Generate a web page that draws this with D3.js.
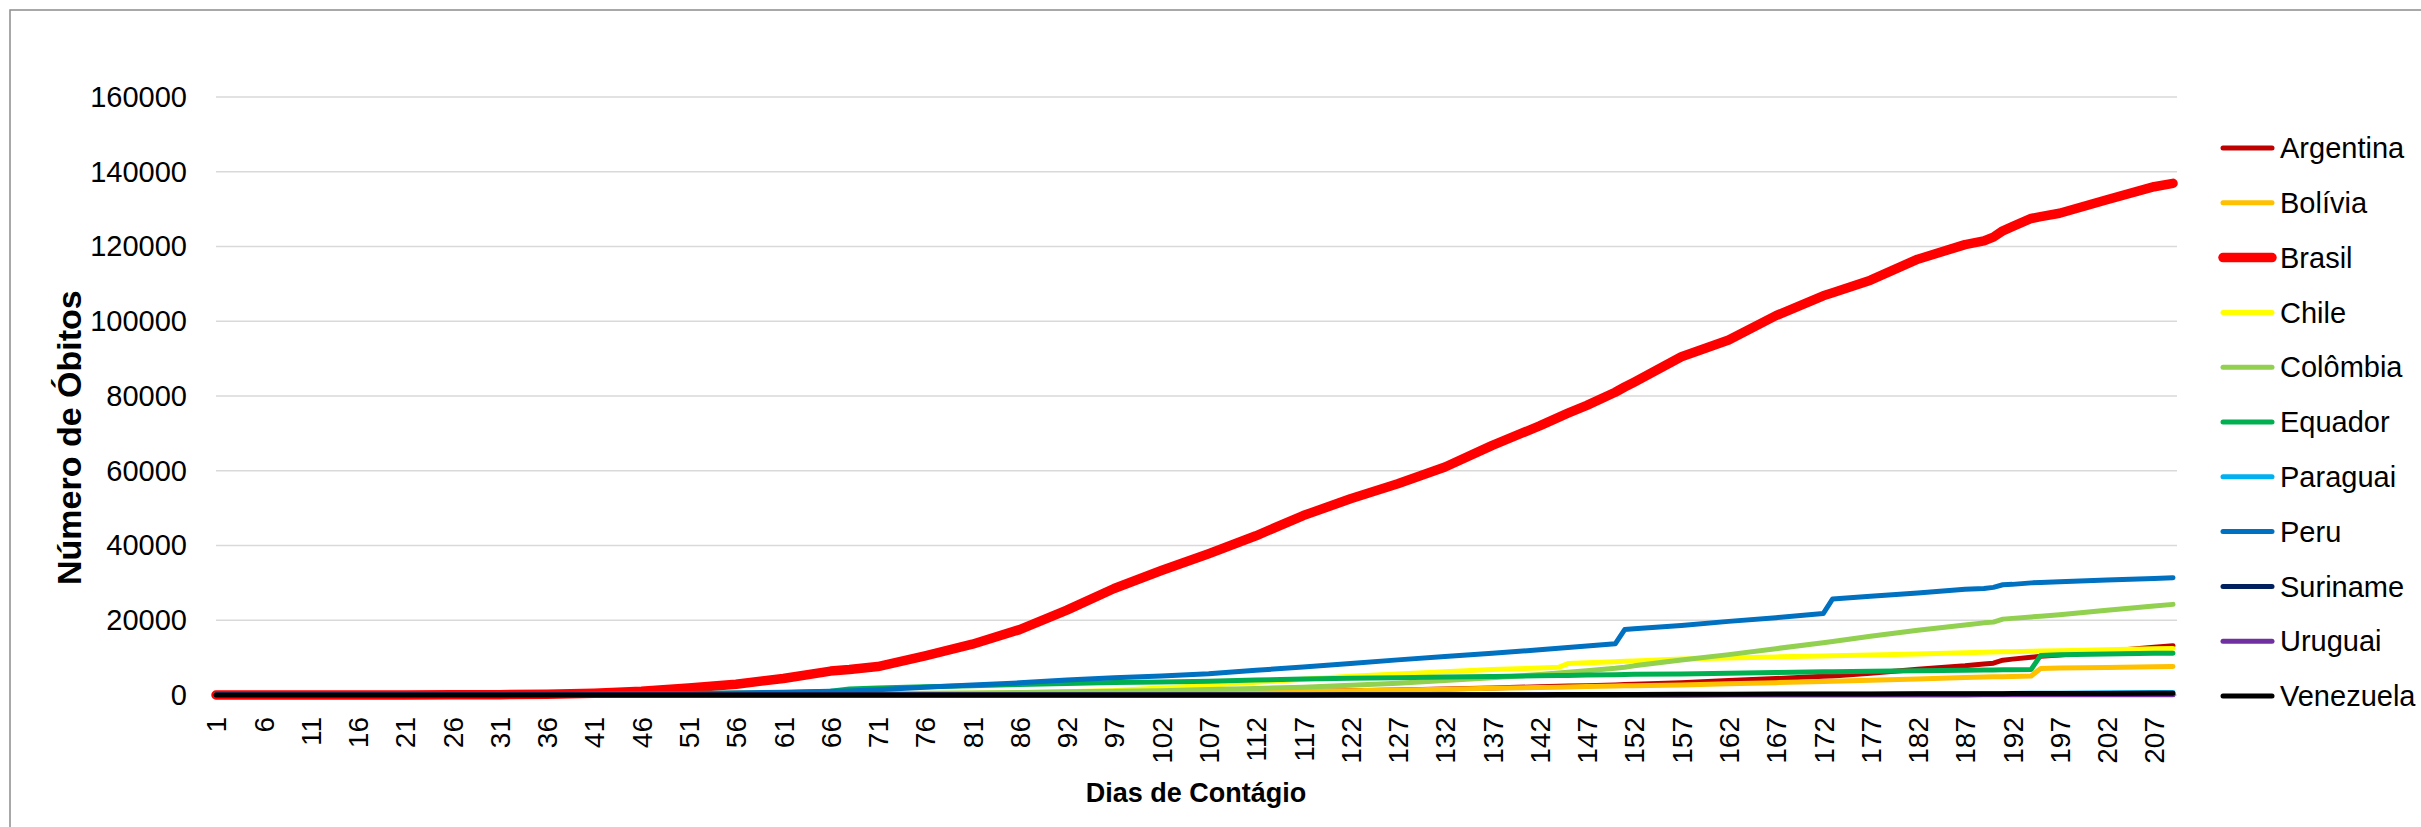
<!doctype html>
<html>
<head>
<meta charset="utf-8">
<script src="https://cdn.jsdelivr.net/npm/d3@7"></script>
<style>
	body { margin: 0; background: #fff; }
	text { font-family: "Liberation Sans", Arial, sans-serif; fill: #000; }
</style>
</head>
<body>
<svg id="chart" width="2421" height="827"></svg>
<script>
// dias de contágio (o dia 91 não existe na planilha)
var dias = d3.range(1, 210).filter(function (d) { return d !== 91; });

var amostra = [1, 6, 11, 16, 21, 26, 31, 36, 41, 46, 51, 56, 61, 66, 68, 71, 76, 81, 86, 92,
	97, 102, 107, 112, 117, 122, 127, 132, 137, 142, 144, 145, 147, 150, 151, 152, 157, 162, 167, 172,
	173, 177, 182, 187, 189, 190, 191, 192, 194, 195, 197, 202, 207, 209];

// número de óbitos acumulado por país
var argentina = [0, 0, 0, 0, 2, 4, 10, 24, 50, 80, 110, 140, 170, 200, 220, 240, 300, 350, 400, 450,
	520, 600, 700, 800, 960, 1150, 1350, 1600, 1900, 2200, 2350, 2400, 2500, 2700, 2800, 2850, 3300, 3850, 4400, 5000,
	5100, 5800, 6900, 7800, 8300, 8500, 9300, 9600, 10100, 10400, 10700, 11700, 12800, 13200];
var bolivia = [0, 0, 0, 0, 0, 0, 1, 10, 20, 30, 40, 50, 60, 120, 130, 150, 200, 250, 310, 400,
	500, 600, 750, 850, 1000, 1150, 1350, 1550, 1800, 2000, 2100, 2150, 2250, 2400, 2450, 2500, 2700, 3000, 3300, 3600,
	3650, 3950, 4300, 4650, 4800, 4850, 4900, 4950, 5100, 7100, 7200, 7350, 7550, 7600];
var brasil = [0, 0, 0, 0, 0, 50, 100, 200, 500, 1000, 1900, 2900, 4400, 6400, 6800, 7600, 10500, 13600, 17500, 22700,
	28500, 33300, 37800, 42600, 48000, 52500, 56500, 61000, 66800, 72000, 74300, 75400, 77500, 81000, 82400, 83700, 90500, 95000, 101500, 106800,
	107600, 111000, 116600, 120500, 121500, 122500, 124200, 125300, 127500, 128000, 128900, 132500, 136000, 136900];
var chile = [0, 0, 0, 0, 0, 0, 1, 5, 20, 50, 100, 140, 200, 260, 280, 320, 390, 480, 600, 900,
	1200, 1900, 2600, 3400, 4200, 5000, 5600, 6200, 6800, 7250, 7400, 8400, 8600, 8900, 9000, 9100, 9600, 9900, 10200, 10450,
	10500, 10700, 11000, 11300, 11450, 11500, 11550, 11600, 11700, 11750, 11850, 12100, 12400, 12450];
var colombia = [0, 0, 0, 0, 0, 0, 10, 20, 50, 90, 150, 200, 260, 300, 330, 370, 460, 560, 700, 850,
	1000, 1150, 1450, 1750, 2100, 2600, 3150, 3900, 4600, 5500, 5900, 6100, 6500, 7130, 7400, 7800, 9360, 10800, 12400, 14000,
	14300, 15700, 17300, 18700, 19300, 19500, 20300, 20500, 20900, 21100, 21500, 22700, 23800, 24250];
var equador = [0, 0, 0, 0, 0, 3, 30, 100, 190, 270, 420, 520, 600, 1000, 1600, 1900, 2200, 2500, 2800, 3100,
	3350, 3500, 3700, 4000, 4300, 4450, 4600, 4800, 4950, 5150, 5200, 5250, 5350, 5450, 5500, 5550, 5650, 5850, 6000, 6200,
	6230, 6350, 6500, 6650, 6700, 6720, 6750, 6780, 6850, 10600, 10750, 10950, 11150, 11200];
var paraguai = [0, 0, 0, 0, 1, 2, 3, 3, 5, 6, 8, 8, 9, 10, 10, 11, 11, 11, 11, 11,
	12, 13, 13, 16, 18, 20, 20, 26, 31, 36, 38, 40, 46, 55, 58, 62, 90, 120, 150, 175,
	180, 220, 280, 340, 370, 385, 400, 420, 450, 470, 500, 570, 650, 680];
var peru = [0, 0, 0, 0, 0, 5, 20, 40, 100, 180, 350, 530, 730, 1000, 1100, 1400, 2100, 2650, 3250, 4000,
	4640, 5100, 5700, 6600, 7500, 8400, 9400, 10300, 11200, 12100, 12500, 12700, 13100, 13700, 17500, 17700, 18600, 19700, 20700, 21800,
	25700, 26400, 27300, 28300, 28500, 28800, 29500, 29600, 30000, 30100, 30300, 30800, 31200, 31400];
var suriname = [0, 0, 0, 0, 0, 0, 0, 1, 1, 1, 1, 1, 1, 1, 1, 1, 1, 1, 1, 1,
	1, 1, 8, 11, 13, 15, 16, 17, 18, 20, 21, 21, 22, 24, 25, 26, 30, 45, 55, 70,
	72, 80, 90, 100, 102, 104, 105, 106, 108, 109, 110, 112, 115, 116];
var uruguai = [0, 0, 0, 0, 0, 1, 2, 3, 7, 8, 10, 12, 14, 18, 18, 19, 20, 20, 22, 22,
	23, 24, 24, 24, 25, 26, 27, 28, 30, 31, 32, 32, 33, 33, 34, 34, 35, 36, 37, 38,
	39, 42, 44, 45, 45, 45, 45, 45, 45, 46, 46, 46, 47, 48];
var venezuela = [0, 0, 0, 0, 0, 0, 1, 3, 7, 9, 9, 10, 10, 10, 10, 10, 10, 10, 10, 11,
	14, 20, 26, 27, 31, 39, 52, 65, 82, 100, 110, 116, 130, 150, 160, 165, 195, 230, 250, 265,
	270, 290, 320, 345, 355, 360, 365, 370, 380, 385, 400, 420, 450, 470];

var paises = ["Argentina", "Bolívia", "Brasil", "Chile", "Colômbia", "Equador", "Paraguai", "Peru", "Suriname", "Uruguai", "Venezuela"];
var cores = ["#C00000", "#FFC000", "#FF0000", "#FFFF00", "#92D050", "#00B050", "#00B0F0", "#0070C0", "#002060", "#7030A0", "#000000"];
var valores = [argentina, bolivia, brasil, chile, colombia, equador, paraguai, peru, suriname, uruguai, venezuela];
var yTicks = [0, 20000, 40000, 60000, 80000, 100000, 120000, 140000, 160000];

var svg = d3.select("#chart");

// fundo e borda do gráfico
svg.append("rect").attr("width", 2421).attr("height", 827).attr("fill", "#fff");
svg.append("rect")
	.attr("x", 10).attr("y", 10).attr("width", 2500).attr("height", 900)
	.attr("fill", "none").attr("stroke", "#8c8c8c").attr("stroke-width", 1.5);

var x = d3.scalePoint().domain(dias).range([216, 2173]);
var y = d3.scaleLinear().domain([0, 160000]).range([695, 97]);

// linhas de grade
svg.append("g").selectAll("line")
	.data(yTicks)
	.enter().append("line")
	.attr("x1", 216).attr("x2", 2177)
	.attr("y1", function (d) { return y(d); })
	.attr("y2", function (d) { return y(d); })
	.attr("stroke", "#d9d9d9").attr("stroke-width", 1.5);

// eixo y
var yAxis = d3.axisLeft(y).tickValues(yTicks).tickSize(0).tickPadding(0).tickFormat(d3.format("d"));
var gy = svg.append("g").attr("transform", "translate(187,0)").call(yAxis);
gy.select(".domain").remove();
gy.selectAll("text").style("font-size", "29px").style("font-family", null).attr("fill", "#000");

// eixo x, um rótulo a cada 5 dias
var xAxis = d3.axisBottom(x)
	.tickValues(dias.filter(function (d, i) { return i % 5 === 0; }))
	.tickSize(0);
var gx = svg.append("g").attr("transform", "translate(0,695)").call(xAxis);
gx.select(".domain").remove();
gx.selectAll("text")
	.style("font-size", "28px").style("font-family", null).attr("fill", "#000")
	.attr("text-anchor", "end")
	.attr("transform", "translate(0,22) rotate(-90)")
	.attr("x", 0).attr("y", 0).attr("dy", "0.35em");

// títulos dos eixos
svg.append("text")
	.attr("x", 1196).attr("y", 802)
	.attr("text-anchor", "middle")
	.style("font-size", "27px").style("font-weight", "bold")
	.text("Dias de Contágio");
svg.append("text")
	.attr("transform", "translate(81,585) rotate(-90)")
	.attr("text-anchor", "start")
	.style("font-size", "34px").style("font-weight", "bold")
	.text("Número de Óbitos");

// séries
var line = d3.line()
	.x(function (d) { return x(d[0]); })
	.y(function (d) { return y(d[1]); });

paises.forEach(function (p, i) {
	var pts = amostra.map(function (dia, j) { return [dia, valores[i][j]]; });
	svg.append("path")
		.datum(pts)
		.attr("d", line)
		.attr("fill", "none")
		.attr("stroke", cores[i])
		.attr("stroke-width", p === "Brasil" ? 9.5 : 5)
		.attr("stroke-linecap", "round")
		.attr("stroke-linejoin", "round");
});

// legenda
var leg = svg.append("g").selectAll("g")
	.data(paises)
	.enter().append("g")
	.attr("transform", function (d, i) { return "translate(0," + (148 + i * 54.8) + ")"; });
leg.append("line")
	.attr("x1", 2223).attr("x2", 2272)
	.attr("stroke", function (d, i) { return cores[i]; })
	.attr("stroke-width", function (d) { return d === "Brasil" ? 9.5 : 5; })
	.attr("stroke-linecap", "round");
leg.append("text")
	.attr("x", 2280).attr("dy", "0.35em")
	.style("font-size", "29px")
	.text(function (d) { return d; });
</script>
</body>
</html>
